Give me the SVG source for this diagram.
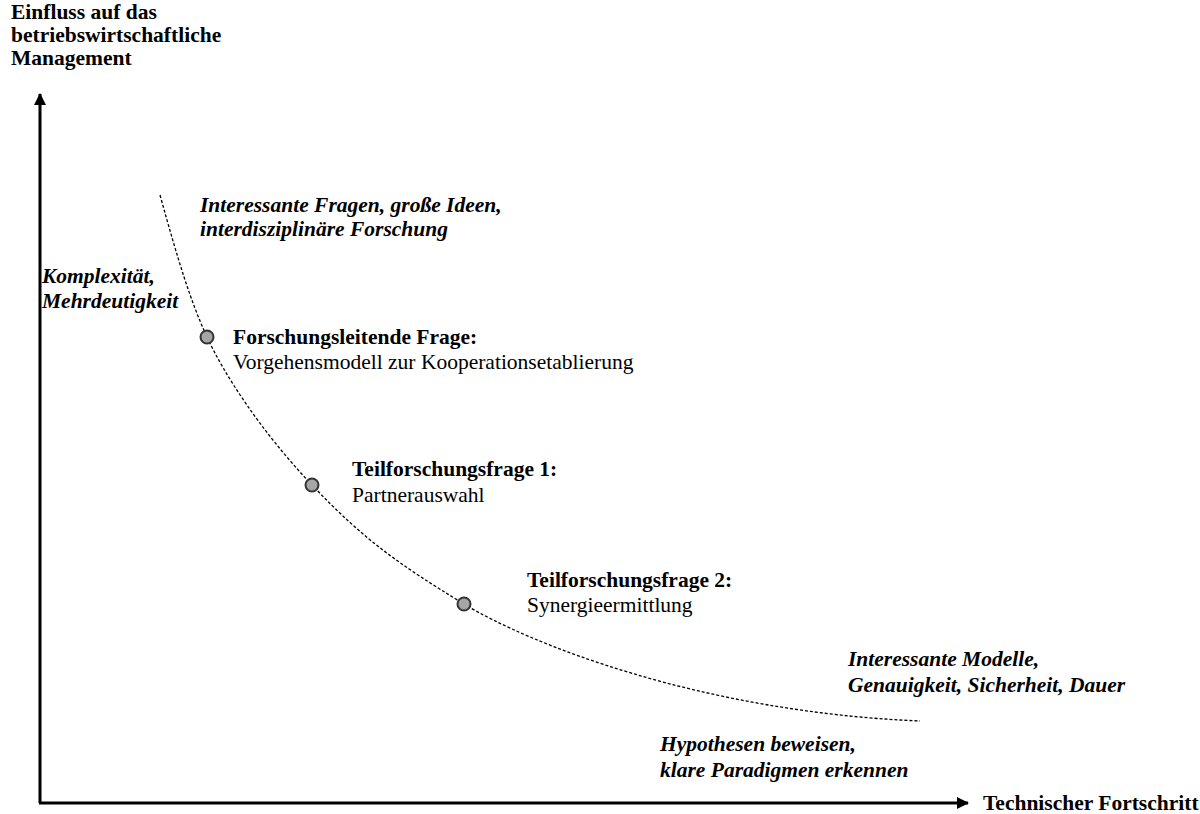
<svg xmlns="http://www.w3.org/2000/svg" width="1200" height="814" viewBox="0 0 1200 814">
  <style>
    text { font-family: "Liberation Serif", "Times New Roman", serif; font-size: 21.5px; fill: #000; }
    .b { font-weight: bold; }
    .bi { font-weight: bold; font-style: italic; }
    .axis { stroke: #000; stroke-width: 3; fill: none; }
    .curve { stroke: #000; stroke-width: 1.3; stroke-dasharray: 3 2; fill: none; }
    .dot { fill: #a6a6a6; stroke: #333; stroke-width: 2; }
  </style>
  <defs>
    <marker id="arrow" viewBox="0 0 12 12" refX="11" refY="6" markerWidth="12" markerHeight="12" markerUnits="userSpaceOnUse" orient="auto">
      <path d="M0,0 L12,6 L0,12 Z" fill="#000"/>
    </marker>
  </defs>

  <!-- axes -->
  <g id="connectors">
    <path class="axis" d="M40,803 L40,94" marker-end="url(#arrow)"/>
    <path class="axis" d="M39,803 L968,803" marker-end="url(#arrow)"/>
    <path class="curve" d="M160,195 C178,260 190,300 207,337 S260,430 312,485 S400,565 464,604 S700,712 920,721"/>
  </g>

  <g id="y-axis-label">
    <text class="b" x="11" y="19">Einfluss auf das</text>
    <text class="b" x="11" y="42">betriebswirtschaftliche</text>
    <text class="b" x="11" y="65">Management</text>
  </g>

  <g id="x-axis-label">
    <text class="b" x="983" y="810">Technischer Fortschritt</text>
  </g>

  <g id="note-top">
    <text class="bi" x="200" y="212">Interessante Fragen, große Ideen,</text>
    <text class="bi" x="200" y="236">interdisziplinäre Forschung</text>
  </g>

  <g id="note-left">
    <text class="bi" x="42" y="283">Komplexität,</text>
    <text class="bi" x="42" y="308">Mehrdeutigkeit</text>
  </g>

  <g id="q-main">
    <circle class="dot" cx="207" cy="337" r="6.5"/>
    <text class="b" x="233" y="344">Forschungsleitende Frage:</text>
    <text x="233" y="369">Vorgehensmodell zur Kooperationsetablierung</text>
  </g>

  <g id="q-1">
    <circle class="dot" cx="312" cy="485" r="6.5"/>
    <text class="b" x="352" y="476">Teilforschungsfrage 1:</text>
    <text x="352" y="502">Partnerauswahl</text>
  </g>

  <g id="q-2">
    <circle class="dot" cx="464" cy="604" r="6.5"/>
    <text class="b" x="527" y="587">Teilforschungsfrage 2:</text>
    <text x="527" y="612">Synergieermittlung</text>
  </g>

  <g id="note-right">
    <text class="bi" x="848" y="666">Interessante Modelle,</text>
    <text class="bi" x="848" y="692">Genauigkeit, Sicherheit, Dauer</text>
  </g>

  <g id="note-bottom">
    <text class="bi" x="660" y="751">Hypothesen beweisen,</text>
    <text class="bi" x="660" y="777">klare Paradigmen erkennen</text>
  </g>
</svg>
